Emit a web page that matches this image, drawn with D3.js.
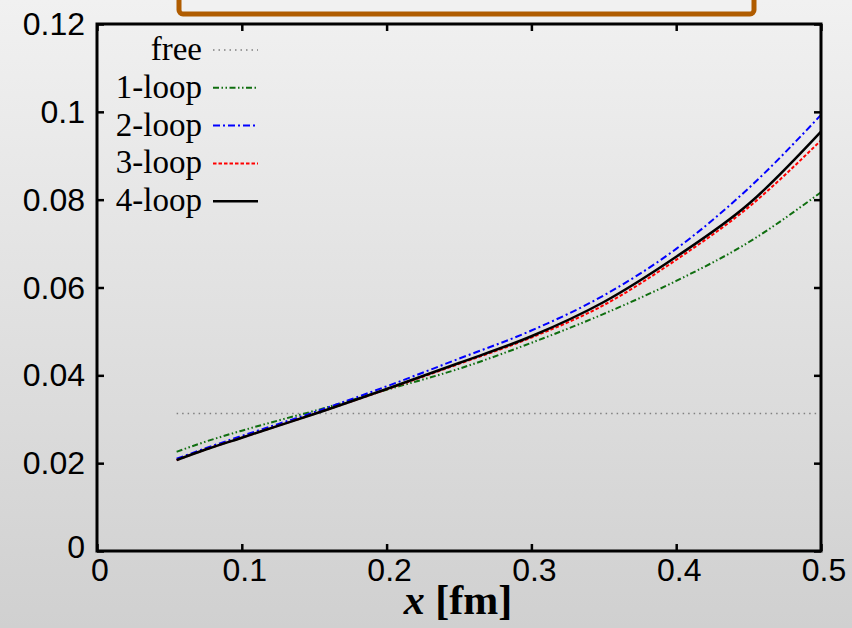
<!DOCTYPE html>
<html>
<head>
<meta charset="utf-8">
<script src="https://cdn.jsdelivr.net/npm/d3@7"></script>
<style>
  html, body { margin: 0; padding: 0; }
  body { width: 852px; height: 628px; overflow: hidden; }
</style>
</head>
<body>
<div id="host"></div>
<script>
// curve data
const xs      = [0.055, 0.075, 0.1, 0.125, 0.15, 0.2, 0.25, 0.3, 0.35, 0.4, 0.45, 0.5];
const loop1   = [0.0226, 0.0249, 0.0274, 0.0297, 0.0319, 0.0367, 0.0415, 0.0474, 0.0540, 0.0615, 0.0703, 0.0817];
const loop2   = [0.0210, 0.0234, 0.0262, 0.0289, 0.0316, 0.0375, 0.0438, 0.0502, 0.0582, 0.0688, 0.0826, 0.0993];
const loop3   = [0.0207, 0.0231, 0.0258, 0.0285, 0.0312, 0.0368, 0.0426, 0.0486, 0.0560, 0.0663, 0.0783, 0.0935];
const loop4   = [0.0207, 0.0231, 0.0258, 0.0285, 0.0312, 0.0369, 0.0428, 0.0489, 0.0567, 0.0670, 0.0790, 0.0955];
const freeX   = [0.055, 0.5];
const freeY   = [0.0313, 0.0313];
const xTicks  = [0, 0.1, 0.2, 0.3, 0.4, 0.5];
const yTicks  = [0, 0.02, 0.04, 0.06, 0.08, 0.1, 0.12];
const xTickLabels = ['0', '0.1', '0.2', '0.3', '0.4', '0.5'];
const yTickLabels = ['0', '0.02', '0.04', '0.06', '0.08', '0.1', '0.12'];

const width = 852, height = 628;
const margin = { top: 24, right: 31, bottom: 77, left: 97 };
const innerW = width - margin.left - margin.right;
const innerH = height - margin.top - margin.bottom;

const svg = d3.select('#host').append('svg').attr('width', width).attr('height', height);

// slide background
const grad = svg.append('defs').append('linearGradient').attr('id', 'bg')
  .attr('x1', 0).attr('y1', 0).attr('x2', 0).attr('y2', 1);
grad.append('stop').attr('offset', 0).attr('stop-color', '#f1f1f1');
grad.append('stop').attr('offset', 1).attr('stop-color', '#d0d0d0');
svg.append('rect').attr('width', width).attr('height', height).attr('fill', 'url(#bg)');

// orange frame peeking in at the top
svg.append('rect').attr('x', 179).attr('y', -20).attr('width', 575).attr('height', 34)
  .attr('rx', 4).attr('fill', '#f1f1f1').attr('stroke', '#b05c00').attr('stroke-width', 5);

const g = svg.append('g').attr('transform', `translate(${margin.left},${margin.top})`);

const x = d3.scaleLinear().domain([0, 0.5]).range([0, innerW]);
const y = d3.scaleLinear().domain([0, 0.12]).range([innerH, 0]);

// ticks, inward, all four sides
const tickLen = 7;
const axisStyle = sel => {
  sel.select('.domain').remove();
  sel.selectAll('.tick line').attr('stroke', '#000').attr('stroke-width', 2.5);
  sel.selectAll('.tick text').remove();
};
g.append('g').attr('transform', `translate(0,${innerH})`)
  .call(d3.axisBottom(x).tickValues(xTicks).tickSize(-tickLen)).call(axisStyle);
g.append('g').call(d3.axisTop(x).tickValues(xTicks).tickSize(-tickLen)).call(axisStyle);
g.append('g').call(d3.axisLeft(y).tickValues(yTicks).tickSize(-tickLen)).call(axisStyle);
g.append('g').attr('transform', `translate(${innerW},0)`)
  .call(d3.axisRight(y).tickValues(yTicks).tickSize(-tickLen)).call(axisStyle);

// tick labels
const tickFont = '"Liberation Sans", Arial, Helvetica, sans-serif';
g.selectAll('.xl').data(xTicks).join('text')
  .attr('x', d => x(d) + 3).attr('y', innerH + 30)
  .attr('text-anchor', 'middle').attr('font-family', tickFont).attr('font-size', 32)
  .attr('fill', '#000').text((d, i) => xTickLabels[i]);
g.selectAll('.yl').data(yTicks).join('text')
  .attr('x', -12).attr('y', d => y(d) + 11 - (d === 0 ? 4 : 0))
  .attr('text-anchor', 'end').attr('font-family', tickFont).attr('font-size', 32)
  .attr('fill', '#000').text((d, i) => yTickLabels[i]);

// x-axis label
const lab = svg.append('text').attr('x', 458).attr('y', 614).attr('text-anchor', 'middle')
  .attr('font-family', '"Liberation Serif", "DejaVu Serif", serif').attr('font-size', 42)
  .attr('font-weight', 'bold').attr('fill', '#000');
lab.append('tspan').attr('font-style', 'italic').text('x');
lab.append('tspan').text(' [fm]');

// series
const series = [
  { name: 'free',   xv: freeX, yv: freeY, color: '#808080', dash: '1.5,4', w: 1.5 },
  { name: '1-loop', xv: xs, yv: loop1, color: '#0f6e0f', dash: '6,2.5,1.5,2.5,1.5,2.5', w: 2 },
  { name: '2-loop', xv: xs, yv: loop2, color: '#0000ff', dash: '7,3,2,3', w: 2 },
  { name: '3-loop', xv: xs, yv: loop3, color: '#ff0000', dash: '3.5,2', w: 2 },
  { name: '4-loop', xv: xs, yv: loop4, color: '#000000', dash: null, w: 2.5 }
];

const line = d3.line().x(d => x(d[0])).y(d => y(d[1])).curve(d3.curveMonotoneX);
series.forEach(s => {
  g.append('path').datum(s.xv.map((v, i) => [v, s.yv[i]]))
    .attr('fill', 'none').attr('stroke', s.color).attr('stroke-width', s.w)
    .attr('stroke-dasharray', s.dash).attr('d', line);
});

// frame
g.append('rect').attr('width', innerW).attr('height', innerH)
  .attr('fill', 'none').attr('stroke', '#000').attr('stroke-width', 3);

// legend
const leg = g.append('g');
series.forEach((s, i) => {
  const ly = 26 + i * 37.8;
  leg.append('text').attr('x', 105).attr('y', ly + 10).attr('text-anchor', 'end')
    .attr('font-family', '"Liberation Serif", "Times New Roman", serif').attr('font-size', 33)
    .attr('fill', '#000').text(s.name);
  leg.append('line').attr('x1', 116).attr('x2', 161).attr('y1', ly).attr('y2', ly)
    .attr('stroke', s.color).attr('stroke-width', s.w).attr('stroke-dasharray', s.dash);
});
</script>
</body>
</html>
